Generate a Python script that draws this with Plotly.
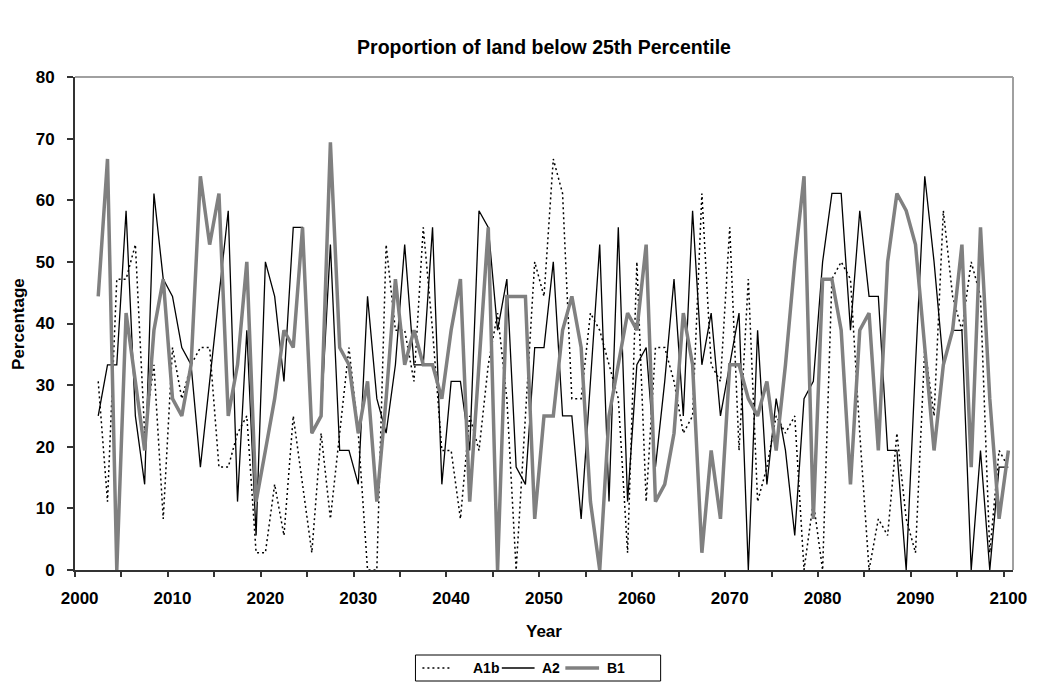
import plotly.graph_objects as go

years = list(range(2002, 2101))

a1b = [30.6, 11.1, 47.2, 47.2, 52.8, 22.2, 33.3, 8.3, 36.1, 27.8,
       33.3, 36.1, 36.1, 16.7, 16.7, 22.2, 25.0, 2.8, 2.8, 13.9,
       5.6, 25.0, 13.9, 2.8, 22.2, 8.3, 22.2, 36.1, 22.2, 0.0,
       0.0, 52.8, 38.9, 38.9, 30.6, 55.6, 38.9, 19.4, 19.4, 8.3,
       25.0, 19.4, 33.3, 41.7, 27.8, 0.0, 25.0, 50.0, 44.4, 66.7,
       61.1, 27.8, 27.8, 41.7, 38.9, 33.3, 27.8, 2.8, 50.0, 11.1,
       36.1, 36.1, 30.6, 22.2, 25.0, 61.1, 33.3, 30.6, 55.6, 19.4,
       47.2, 11.1, 16.7, 25.0, 22.2, 25.0, 0.0, 11.1, 0.0, 47.2,
       50.0, 47.2, 22.2, 0.0, 8.3, 5.6, 22.2, 8.3, 2.8, 36.1,
       25.0, 58.3, 44.4, 38.9, 50.0, 44.4, 2.8, 19.4, 16.7]

a2 = [25.0, 33.3, 33.3, 58.3, 25.0, 13.9, 61.1, 47.2, 44.4, 36.1,
      33.3, 16.7, 30.6, 44.4, 58.3, 11.1, 38.9, 5.6, 50.0, 44.4,
      30.6, 55.6, 55.6, 22.2, 25.0, 52.8, 19.4, 19.4, 13.9, 44.4,
      27.8, 22.2, 33.3, 52.8, 33.3, 33.3, 55.6, 13.9, 30.6, 30.6,
      19.4, 58.3, 55.6, 38.9, 47.2, 16.7, 13.9, 36.1, 36.1, 50.0,
      25.0, 25.0, 8.3, 30.6, 52.8, 11.1, 55.6, 11.1, 33.3, 36.1,
      16.7, 30.6, 47.2, 25.0, 58.3, 33.3, 41.7, 25.0, 33.3, 41.7,
      0.0, 38.9, 13.9, 27.8, 19.4, 5.6, 27.8, 30.6, 50.0, 61.1,
      61.1, 38.9, 58.3, 44.4, 44.4, 19.4, 19.4, 0.0, 33.3, 63.9,
      50.0, 33.3, 38.9, 38.9, 0.0, 19.4, 0.0, 16.7, 16.7]

b1 = [44.4, 66.7, 0.0, 41.7, 30.6, 19.4, 38.9, 47.2, 27.8, 25.0,
      33.3, 63.9, 52.8, 61.1, 25.0, 33.3, 50.0, 11.1, 19.4, 27.8,
      38.9, 36.1, 55.6, 22.2, 25.0, 69.4, 36.1, 33.3, 22.2, 30.6,
      11.1, 27.8, 47.2, 33.3, 38.9, 33.3, 33.3, 27.8, 38.9, 47.2,
      11.1, 33.3, 55.6, 0.0, 44.4, 44.4, 44.4, 8.3, 25.0, 25.0,
      38.9, 44.4, 36.1, 11.1, 0.0, 25.0, 33.3, 41.7, 38.9, 52.8,
      11.1, 13.9, 22.2, 41.7, 33.3, 2.8, 19.4, 8.3, 33.3, 33.3,
      27.8, 25.0, 30.6, 19.4, 33.3, 50.0, 63.9, 8.3, 47.2, 47.2,
      38.9, 13.9, 38.9, 41.7, 19.4, 50.0, 61.1, 58.3, 52.8, 36.1,
      19.4, 33.3, 38.9, 52.8, 16.7, 55.6, 27.8, 8.3, 19.4]

series_names = ["A1b", "A2", "B1"]
x_labels = list(range(2000, 2101, 10))
x_minor = [1999.5 + 5 * i for i in range(21)]
y_ticks = list(range(0, 81, 10))

FONT = "Arial, 'Liberation Sans', sans-serif"
styles = [dict(color="black", width=1.5, dash="2px,3px"),
          dict(color="black", width=1.3),
          dict(color="#808080", width=3.5)]

fig = go.Figure()
for name, vals, st in zip(series_names, [a1b, a2, b1], styles):
    fig.add_trace(go.Scatter(x=years, y=vals, name=name, mode="lines",
                             line=st, showlegend=False))

# pixel geometry of the plot area (for legend placement)
L, R, T, B = 75, 1020, 77, 570
W, H = R - L, B - T
px = lambda v: (v - L) / W
py = lambda v: (B - v) / H

shapes = [
    dict(type="line", xref="paper", yref="paper", x0=0, x1=1, y0=1, y1=1,
         line=dict(color="#a0a0a0", width=2), layer="below"),
    dict(type="line", xref="paper", yref="paper", x0=1, x1=1, y0=0, y1=1,
         line=dict(color="#a0a0a0", width=2), layer="below"),
    dict(type="rect", xref="paper", yref="paper", x0=px(418), x1=px(665),
         y0=py(681), y1=py(655), line=dict(color="black", width=1),
         fillcolor="white"),
]
annotations = [
    dict(text="<b>Percentage</b>", xref="paper", yref="paper",
         x=px(18), y=0.5, xanchor="center", yanchor="middle",
         textangle=-90, showarrow=False, font=dict(size=17)),
    dict(text="<b>Year</b>", xref="paper", yref="paper",
         x=0.5, y=py(631), xanchor="center", yanchor="middle",
         showarrow=False, font=dict(size=17)),
]
leg_items = [(425, 455, 474), (505, 538, 543), (569, 603, 609)]
for (l0, l1, tx), name, st in zip(leg_items, series_names, styles):
    shapes.append(dict(type="line", xref="paper", yref="paper",
                       x0=px(l0), x1=px(l1), y0=py(668), y1=py(668),
                       line=st))
    annotations.append(dict(text="<b>%s</b>" % name, xref="paper", yref="paper",
                            x=px(tx), y=py(668), xanchor="left", yanchor="middle",
                            showarrow=False, font=dict(size=14)))

fig.update_layout(
    width=1039, height=689,
    margin=dict(l=L, r=1039 - R, t=T, b=689 - B),
    paper_bgcolor="white", plot_bgcolor="white",
    font=dict(family=FONT, size=17, color="black"),
    title=dict(text="<b>Proportion of land below 25th Percentile</b>",
               x=0.5, xref="paper", xanchor="center",
               y=1 - 47 / 689, yref="container", yanchor="middle",
               font=dict(size=19.5)),
    showlegend=False,
    xaxis=dict(range=[1999.5, 2100.5], tickmode="array", tickvals=x_labels,
               ticktext=["<b>%d</b>" % v for v in x_labels],
               ticks="", showgrid=False, zeroline=False,
               showline=True, linecolor="#333333", linewidth=2,
               ticklabelstandoff=12,
               minor=dict(tickmode="array", tickvals=x_minor, ticks="outside",
                          ticklen=5, tickcolor="#333333", tickwidth=1.5,
                          showgrid=False),
               tickfont=dict(size=17)),
    yaxis=dict(range=[0, 80], tickmode="array", tickvals=y_ticks,
               ticktext=["<b>%d</b>" % v for v in y_ticks],
               ticks="outside", ticklen=6, tickcolor="#333333", tickwidth=1.5,
               showgrid=False, zeroline=False,
               showline=True, linecolor="#333333", linewidth=2,
               ticklabelstandoff=9,
               tickfont=dict(size=17)),
    shapes=shapes,
    annotations=annotations,
)

fig.write_html("out.html")
